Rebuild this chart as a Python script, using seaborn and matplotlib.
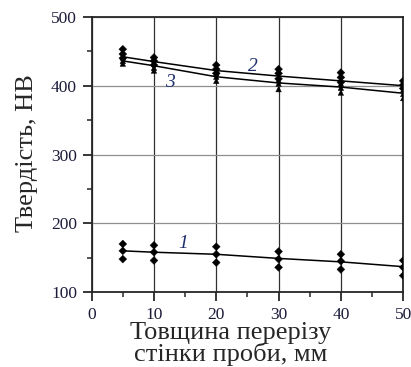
import numpy as np
import pandas as pd
import seaborn as sns
import matplotlib.pyplot as plt
from matplotlib.ticker import MultipleLocator

# wall thickness of sample, mm
thickness = [5, 10, 20, 30, 40, 50]

# curve 1 - measured points (3 per thickness) and fitted line
hb1_pts = [[170, 160, 148], [168, 158, 146], [166, 155, 143],
           [159, 148, 136], [155, 145, 133], [146, 136, 124]]
hb1_fit = [160, 158, 155, 149, 144, 137]

# curve 2
hb2_pts = [[453, 446, 440], [441, 436, 430], [430, 424, 418],
           [424, 418, 410], [419, 412, 405], [407, 401, 396]]
hb2_fit = [442, 435, 422, 414, 407, 400]

# curve 3
hb3_pts = [[441, 436, 432], [432, 426, 422], [418, 413, 407],
           [408, 403, 395], [403, 397, 390], [394, 388, 382]]
hb3_fit = [436, 429, 413, 404, 398, 389]

curve_labels = ['1', '2', '3']


def to_long(pts, name):
    rows = []
    for x, vals in zip(thickness, pts):
        for v in vals:
            rows.append({'x': x, 'hb': v, 'curve': name})
    return pd.DataFrame(rows)


sns.set_style('ticks')
plt.rcParams['font.family'] = ['Liberation Serif', 'DejaVu Serif']

fig = plt.figure(figsize=(4.11, 3.67), dpi=100)
ax = fig.add_axes([0.223, 0.204, 0.758, 0.750])

# grid first so it sits under the data
ax.set_axisbelow(True)
ax.grid(axis='y', which='major', color='#8f8f8f', lw=0.9)
ax.grid(axis='x', which='major', color='#303030', lw=0.9)

fits = [hb1_fit, hb2_fit, hb3_fit]
for fit in fits:
    sns.lineplot(x=thickness, y=fit, ax=ax, color='black', lw=1.1)

pts_df = pd.concat([to_long(hb1_pts, '1'), to_long(hb2_pts, '2'),
                    to_long(hb3_pts, '3')])
sns.scatterplot(data=pts_df, x='x', y='hb', style='curve',
                markers={'1': 'D', '2': 'D', '3': '^'},
                color='black', s=16, edgecolor='black', linewidth=0.3,
                ax=ax, legend=False, zorder=4)

ax.set_xlim(0, 50)
ax.set_ylim(100, 500)
ax.xaxis.set_major_locator(MultipleLocator(10))
ax.xaxis.set_minor_locator(MultipleLocator(5))
ax.yaxis.set_major_locator(MultipleLocator(100))
ax.yaxis.set_minor_locator(MultipleLocator(50))
ax.tick_params(which='major', direction='out', length=6.5, width=1.3,
               labelsize=12.5, labelcolor='#1c1c3a', pad=4)
ax.tick_params(which='minor', direction='out', length=3.5, width=1.1)
for sp in ax.spines.values():
    sp.set_linewidth(1.3)

# curve numbers
label_pos = [(14.7, 170), (25.9, 428), (12.6, 404)]
for txt, (lx, ly) in zip(curve_labels, label_pos):
    ax.text(lx, ly, txt, fontsize=14, style='italic', color='#1e2f6e',
            ha='center', va='center')

ax.set_xlabel('Товщина перерізу\nстінки проби, мм', fontsize=19,
              linespacing=0.9)
ax.set_ylabel('Твердість, НВ', fontsize=19)
ax.xaxis.set_label_coords(0.447, -0.108)
ax.yaxis.set_label_coords(-0.172, 0.505)

plt.savefig('out.png', dpi=100)
plt.close()
